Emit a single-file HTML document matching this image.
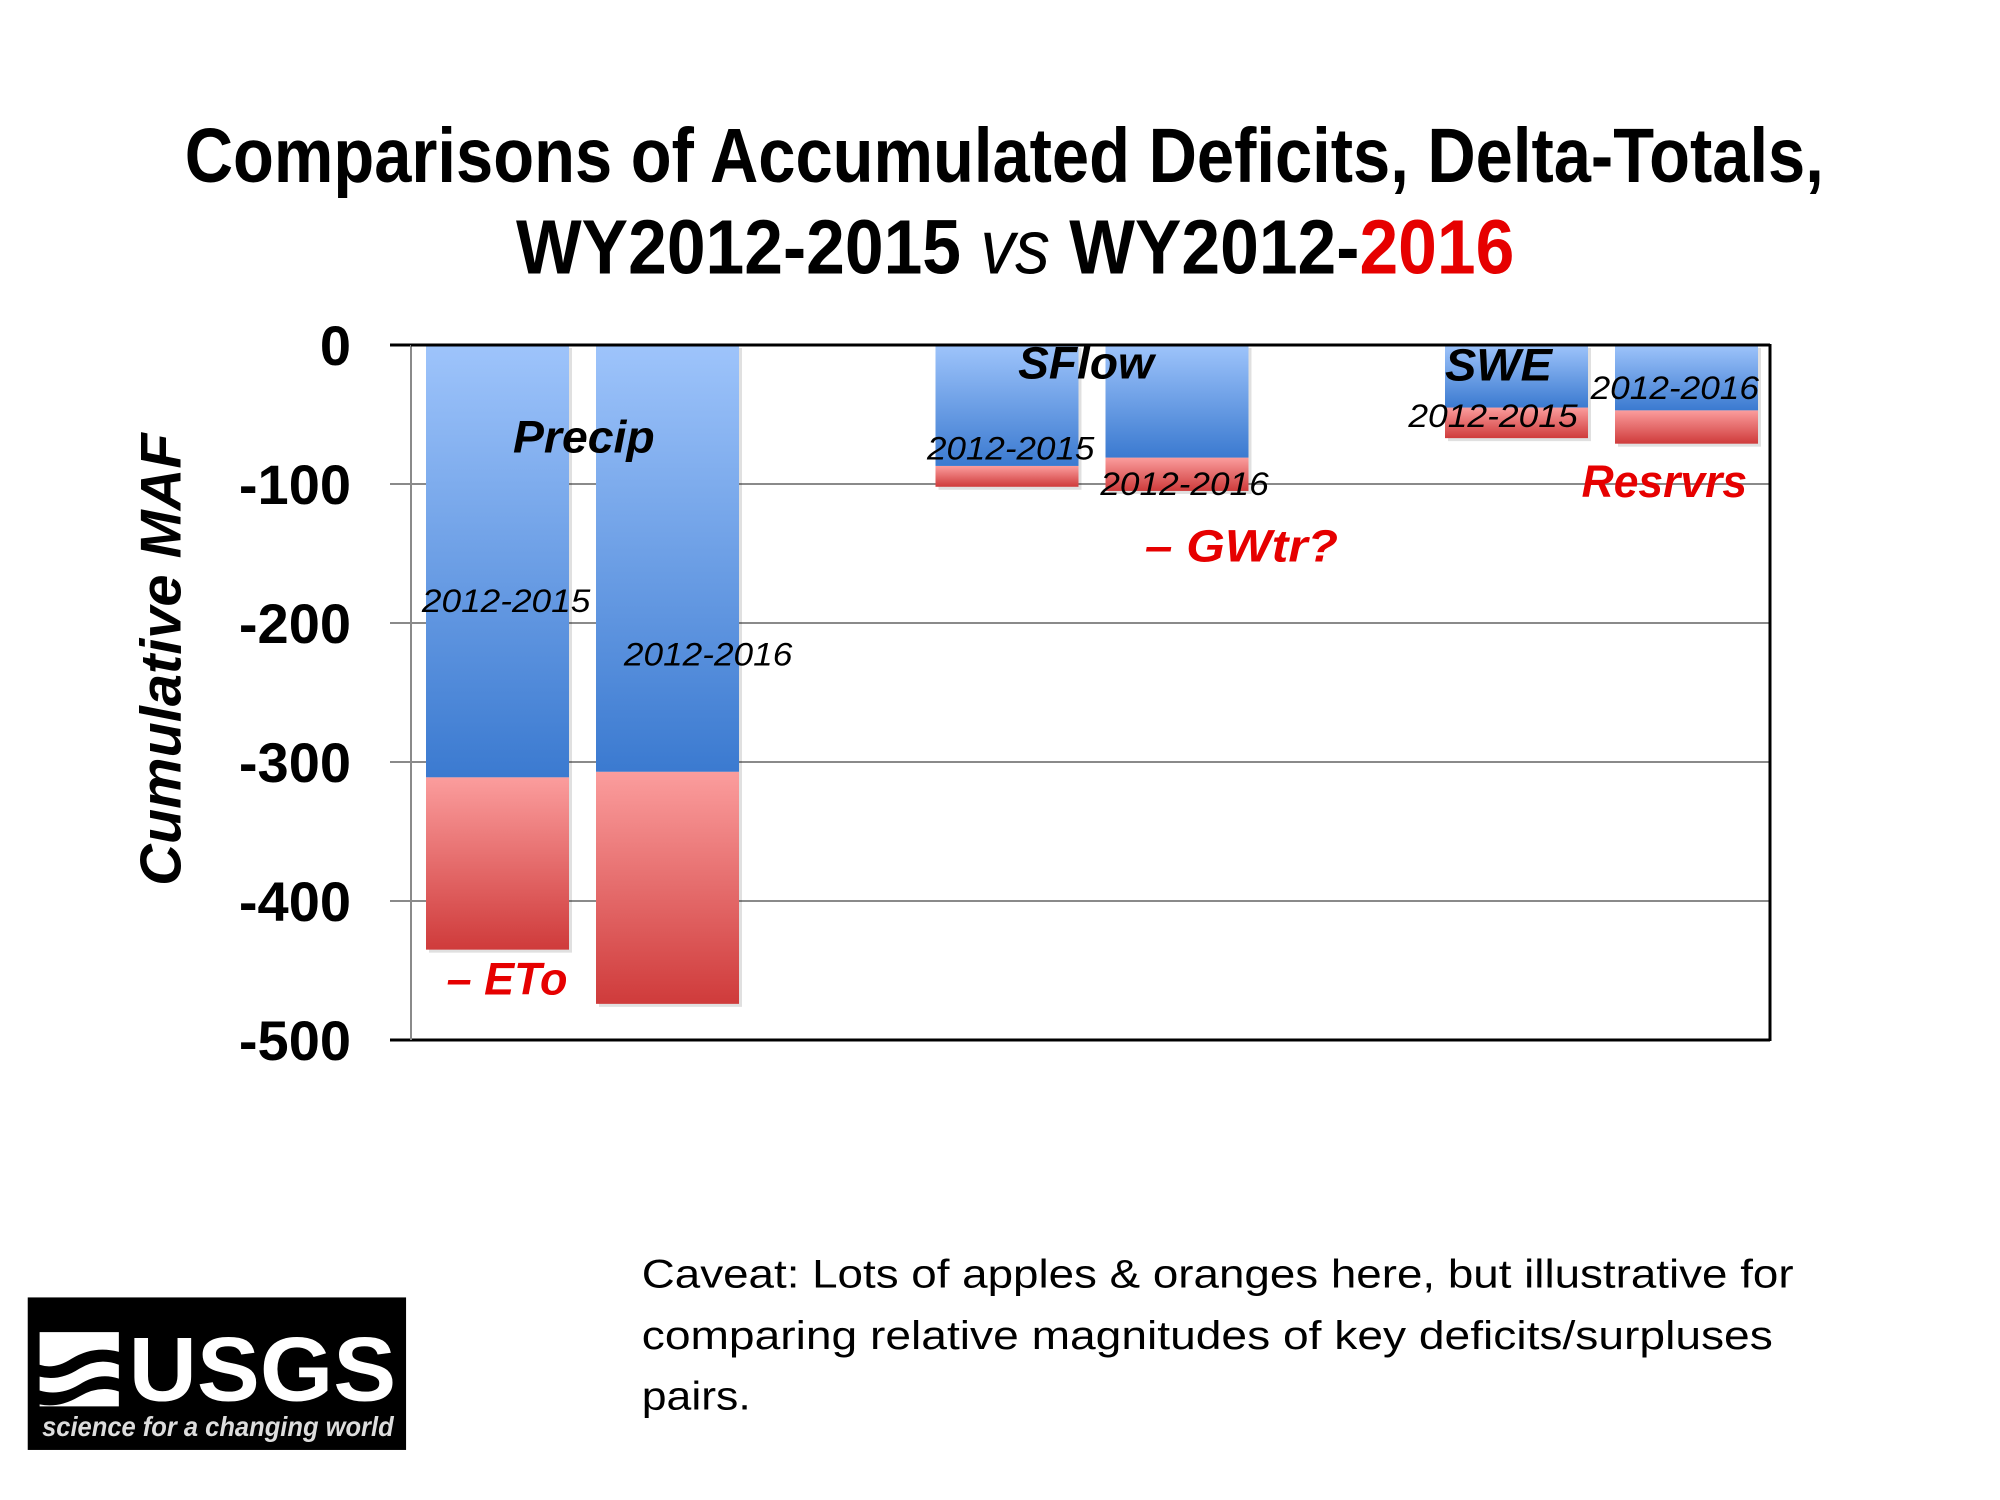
<!DOCTYPE html>
<html><head><meta charset="utf-8"><style>
html,body{margin:0;padding:0;background:#fff;}
svg{display:block;}
text{font-family:"Liberation Sans",sans-serif;}
</style></head><body>
<svg id="chart" width="2000" height="1500" viewBox="0 0 2000 1500" xmlns="http://www.w3.org/2000/svg">
<defs>
<linearGradient id="gBlue" x1="0" y1="0" x2="0" y2="1"><stop offset="0" stop-color="#9ec4fb"/><stop offset="1" stop-color="#3b7ad0"/></linearGradient>
<linearGradient id="gRed" x1="0" y1="0" x2="0" y2="1"><stop offset="0" stop-color="#fb9d9d"/><stop offset="1" stop-color="#cf3b3b"/></linearGradient>
</defs>
<g id="grid"></g>
<g id="yticks"></g>
<g id="bars"></g>
<g id="frame"></g>
<g transform="scale(0.9904)">
<g>
<text x="1014" y="184" font-size="78" font-weight="bold" text-anchor="middle" textLength="1655" lengthAdjust="spacingAndGlyphs">Comparisons of Accumulated Deficits, Delta-Totals,</text>
<text x="1025" y="276" font-size="78" font-weight="bold" text-anchor="middle" textLength="1008" lengthAdjust="spacingAndGlyphs">WY2012-2015 <tspan font-style="italic" font-weight="normal">vs</tspan> WY2012-<tspan fill="#e60000">2016</tspan></text>
</g>
<text transform="translate(182,666) rotate(-90)" font-size="58" font-weight="bold" font-style="italic" text-anchor="middle" textLength="457" lengthAdjust="spacingAndGlyphs">Cumulative MAF</text>
<g font-style="italic">
<text x="518" y="457" font-size="46" font-weight="bold" textLength="143" lengthAdjust="spacingAndGlyphs">Precip</text>
<text x="426" y="618" font-size="33" textLength="170" lengthAdjust="spacingAndGlyphs">2012-2015</text>
<text x="630" y="672" font-size="33" textLength="170" lengthAdjust="spacingAndGlyphs">2012-2016</text>
<text x="451" y="1004" font-size="46" font-weight="bold" fill="#e60000" textLength="122" lengthAdjust="spacingAndGlyphs">– ETo</text>
<text x="1028" y="382" font-size="46" font-weight="bold" textLength="137" lengthAdjust="spacingAndGlyphs">SFlow</text>
<text x="936" y="464" font-size="33" textLength="169" lengthAdjust="spacingAndGlyphs">2012-2015</text>
<text x="1111" y="500" font-size="33" textLength="170" lengthAdjust="spacingAndGlyphs">2012-2016</text>
<text x="1156" y="567" font-size="46" font-weight="bold" fill="#e60000" textLength="195" lengthAdjust="spacingAndGlyphs">– GWtr?</text>
<text x="1459" y="384" font-size="46" font-weight="bold" textLength="108" lengthAdjust="spacingAndGlyphs">SWE</text>
<text x="1422" y="431" font-size="33" textLength="171" lengthAdjust="spacingAndGlyphs">2012-2015</text>
<text x="1606" y="403" font-size="33" textLength="170" lengthAdjust="spacingAndGlyphs">2012-2016</text>
<text x="1597" y="502" font-size="46" font-weight="bold" fill="#e60000" textLength="167" lengthAdjust="spacingAndGlyphs">Resrvrs</text>
</g>
<g>
<rect x="28" y="1310" width="382" height="154" fill="#000"/>
<path d="M40 1345 L120 1345 L120 1365 Q95 1358 72 1372 Q55 1383 40 1378 Z" fill="#fff"/>
<path d="M40 1390 Q60 1395 80 1382 Q100 1370 120 1378 L120 1392 Q100 1385 80 1398 Q60 1410 40 1404 Z" fill="#fff"/>
<path d="M40 1418 Q60 1422 80 1410 Q100 1398 120 1405 L120 1420 L40 1420 Z" fill="#fff"/>
<text x="265" y="1414" font-size="92" font-weight="bold" fill="#fff" text-anchor="middle" textLength="270" lengthAdjust="spacingAndGlyphs">USGS</text>
<text x="220" y="1450" font-size="28" font-weight="bold" font-style="italic" fill="#ddd" text-anchor="middle" textLength="355" lengthAdjust="spacingAndGlyphs">science for a changing world</text>
</g>
<g font-size="40">
<text x="648" y="1300" textLength="1163" lengthAdjust="spacingAndGlyphs">Caveat: Lots of apples &amp; oranges here, but illustrative for</text>
<text x="648" y="1362" textLength="1142" lengthAdjust="spacingAndGlyphs">comparing relative magnitudes of key deficits/surpluses</text>
<text x="648" y="1423" textLength="110" lengthAdjust="spacingAndGlyphs">pairs.</text>
</g>
</g>
</svg>
<script>
const categories = ["Precip 2012-2015","Precip 2012-2016","SFlow 2012-2015","SFlow 2012-2016","SWE 2012-2015","SWE 2012-2016"];
const blueValues = [-311,-307,-87,-81,-45,-47];
const redValues = [-435,-474,-102,-105,-67,-71];
const tickValues = [0,-100,-200,-300,-400,-500];
const tickLabels = ["0","-100","-200","-300","-400","-500"];

const NS = "http://www.w3.org/2000/svg";
const plotL = 411, plotR = 1770, yTop = 345, yBot = 1040;
function yScale(v){ return yTop + (0 - v) / 500 * (yBot - yTop); }
function xScale(i){ const g = Math.floor(i/2), k = i%2; return 426 + g*509.5 + k*170; }
const barW = 143;
function mk(tag, attrs, parent){ const e = document.createElementNS(NS, tag); for (const k in attrs) e.setAttribute(k, attrs[k]); parent.appendChild(e); return e; }

const gridG = document.getElementById('grid');
const ytG = document.getElementById('yticks');
tickValues.forEach((v,i)=>{
  const y = yScale(v);
  const ln = mk('line',{x1:390,x2:plotR,y1:y,y2:y,stroke:(v===0||v===-500)?'#000':'#8a8a8a','stroke-width':(v===0||v===-500)?3:2},gridG);
  
  
  const t = mk('text',{x:351,y:y+20,'font-size':56,'font-weight':'bold','text-anchor':'end'},ytG);
  t.textContent = tickLabels[i];
  
  
});

const barsG = document.getElementById('bars');
categories.forEach((c,i)=>{
  const x = xScale(i);
  const yb = yScale(blueValues[i]), yr = yScale(redValues[i]);
  const sh = mk('rect',{x:x+3,y:yTop+3,width:barW,height:yr-yTop,fill:'#000','fill-opacity':0.12},barsG);
  
  
  const r = mk('rect',{x:x,y:yb,width:barW,height:yr-yb,fill:'url(#gRed)'},barsG);
  
  
  const b = mk('rect',{x:x,y:yTop,width:barW,height:yb-yTop,fill:'url(#gBlue)'},barsG);
  
  
});

const frameG = document.getElementById('frame');
const leftLine = mk('line',{x1:plotL,x2:plotL,y1:yTop,y2:yBot,stroke:'#8a8a8a','stroke-width':2},frameG);


const rightLine = mk('line',{x1:plotR,x2:plotR,y1:yTop-1,y2:yBot+1,stroke:'#000','stroke-width':3},frameG);


const topLine = mk('line',{x1:plotL,x2:plotR,y1:yTop,y2:yTop,stroke:'#000','stroke-width':3},frameG);


</script>
</body></html>
